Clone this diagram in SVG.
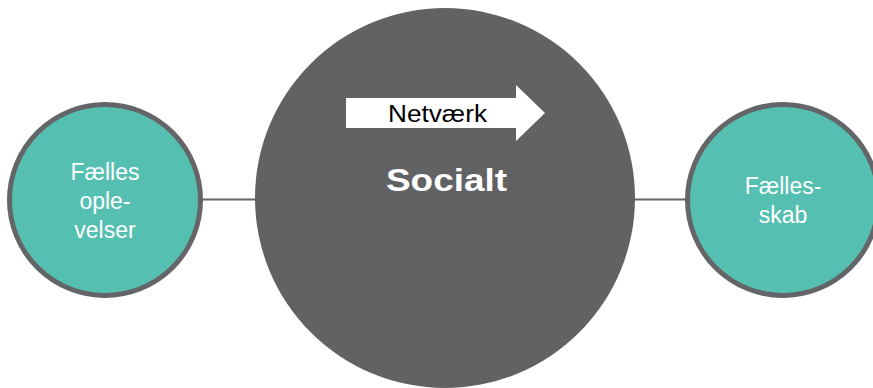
<svg xmlns="http://www.w3.org/2000/svg" width="873" height="388" viewBox="0 0 873 388">
<style>
.small{fill:#55C0B2;stroke:#646567;stroke-width:5}
.lbl{font-family:"Liberation Sans",Arial,sans-serif;font-size:23px;fill:#ffffff;text-anchor:middle}
.conn{stroke:#646567;stroke-width:2;fill:none}
</style>
<rect width="873" height="388" fill="#ffffff"/>
<g id="connectors">
<line class="conn" x1="203" y1="199.5" x2="256" y2="199.5"/>
<line class="conn" x1="634" y1="199.5" x2="687" y2="199.5"/>
</g>
<g id="socialt">
<circle cx="445" cy="198" r="190" fill="#616264"/>
<polygon points="346,98 516,98 516,85 545,113 516,141 516,128 346,128" fill="#ffffff"/>
<text x="388" y="122" font-family="'Liberation Sans',Arial,sans-serif" font-size="23" fill="#000000" textLength="99" lengthAdjust="spacingAndGlyphs">Netværk</text>
<text x="386" y="191" font-family="'Liberation Sans',Arial,sans-serif" font-size="32" font-weight="bold" fill="#ffffff" textLength="121" lengthAdjust="spacingAndGlyphs">Socialt</text>
</g>
<g id="faelles-oplevelser">
<circle class="small" cx="105" cy="200" r="95.5"/>
<text class="lbl" x="105" y="180">Fælles</text>
<text class="lbl" x="105" y="209">ople-</text>
<text class="lbl" x="105" y="238">velser</text>
</g>
<g id="faellesskab">
<circle class="small" cx="783" cy="200" r="95.5"/>
<text class="lbl" x="783" y="194">Fælles-</text>
<text class="lbl" x="783" y="223">skab</text>
</g>
</svg>
